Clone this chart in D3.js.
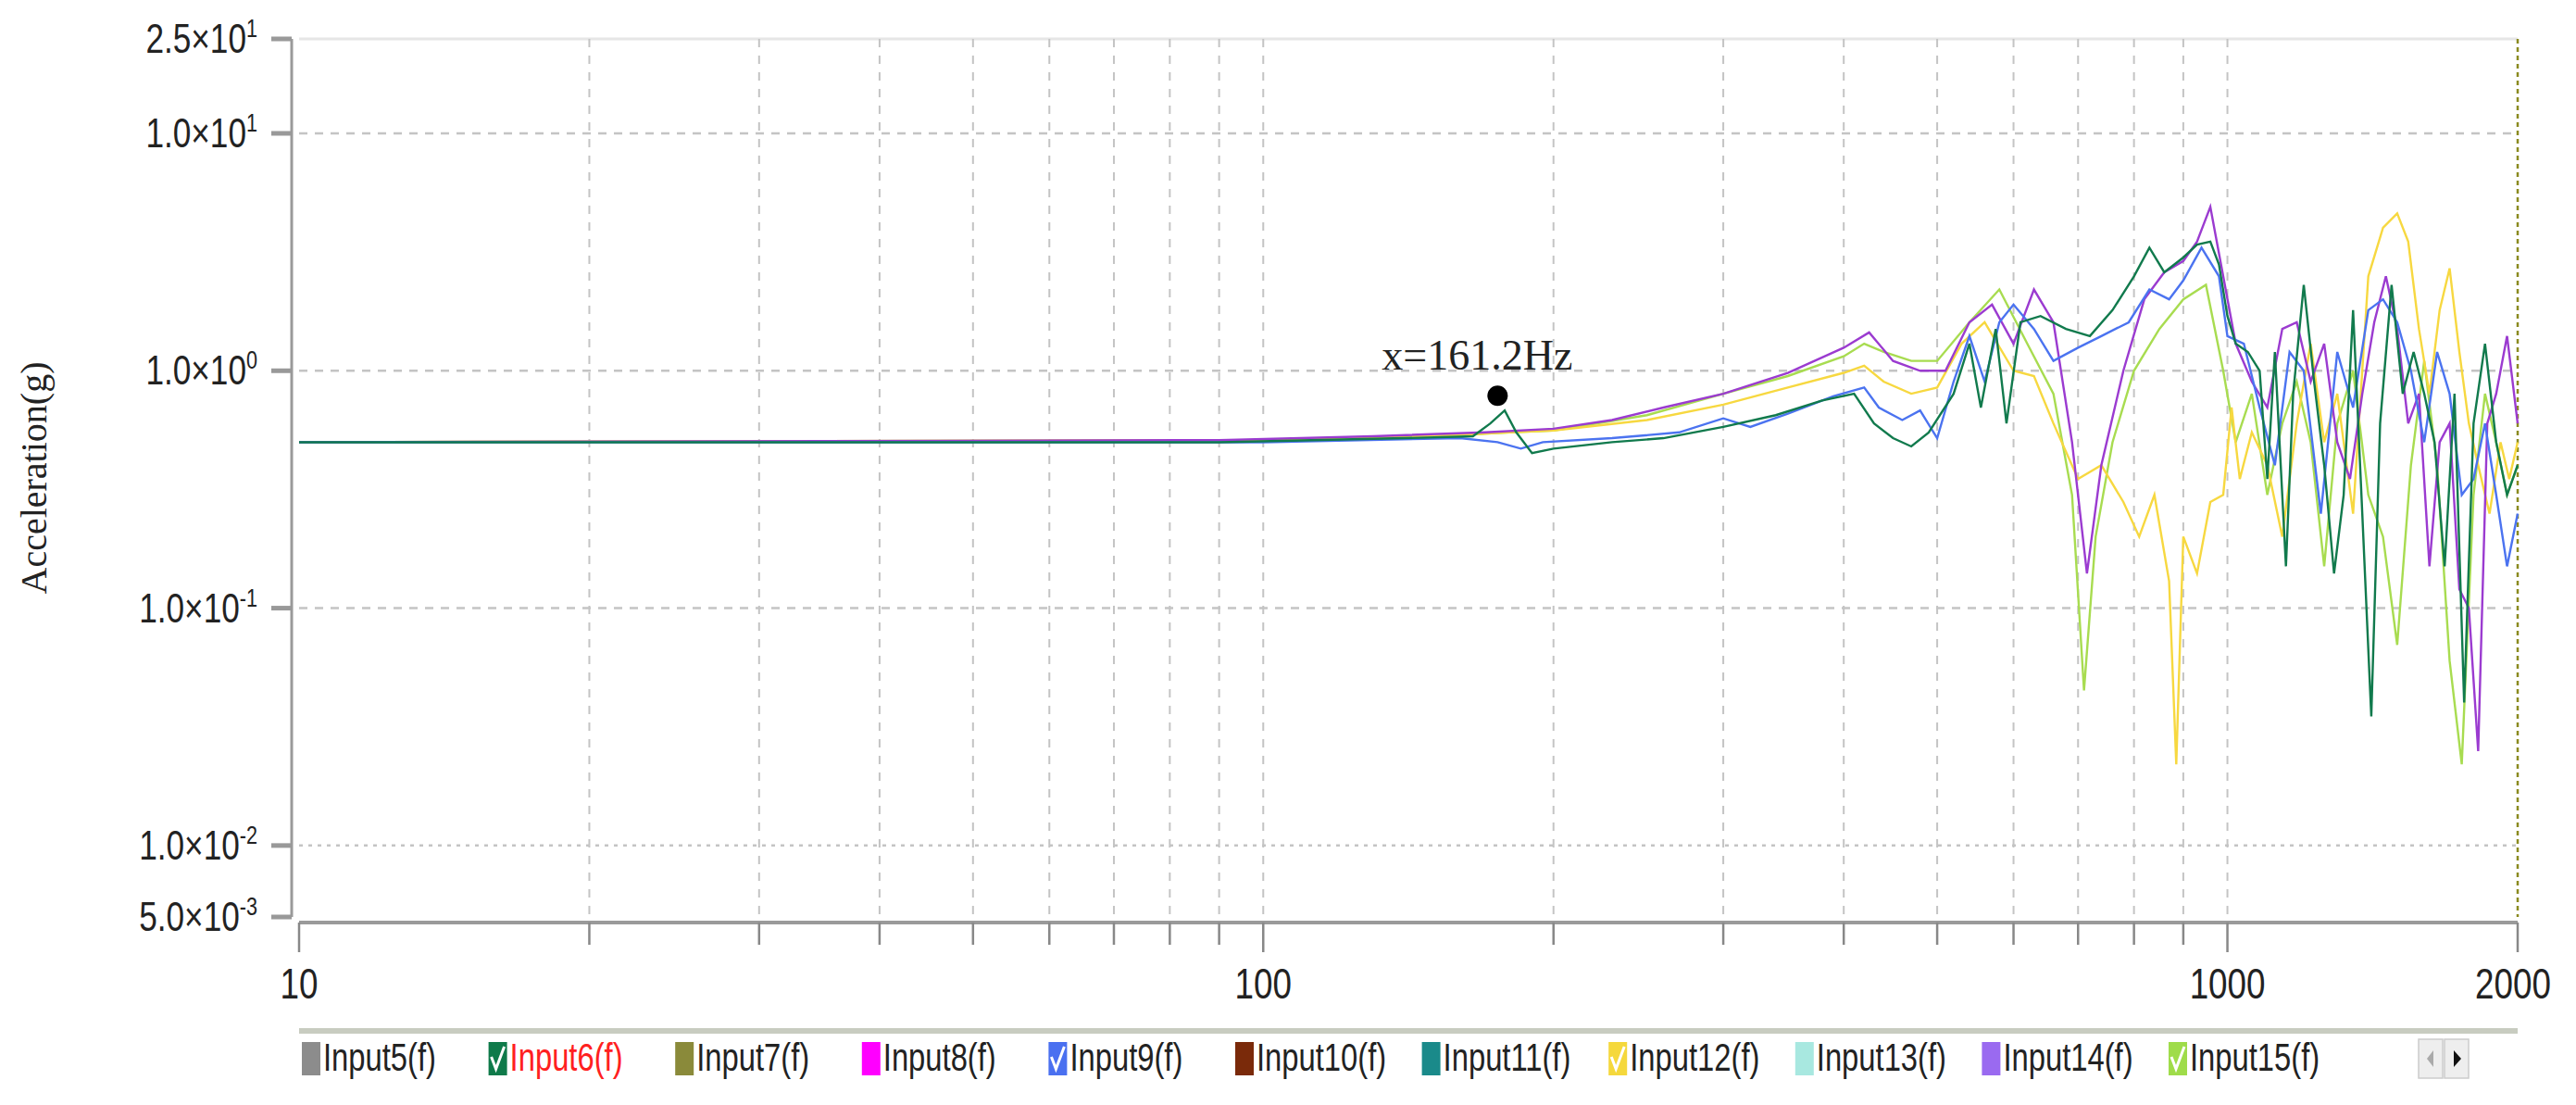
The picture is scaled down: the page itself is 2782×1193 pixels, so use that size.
<!DOCTYPE html>
<html><head><meta charset="utf-8">
<script src="https://cdn.jsdelivr.net/npm/d3@7"></script>
<style>body{margin:0;background:#fff}</style></head>
<body><svg id="c" width="2782" height="1193"></svg>
<script>
const yTicks=[25,10,1,0.1,0.01,0.005];
const yTickLabels=[["2.5","1"],["1.0","1"],["1.0","0"],["1.0","-1"],["1.0","-2"],["5.0","-3"]];
const xTickLabels=[10,100,1000,2000];
const legendNames=["Input5(f)","Input6(f)","Input7(f)","Input8(f)","Input9(f)","Input10(f)","Input11(f)","Input12(f)","Input13(f)","Input14(f)","Input15(f)"];
const legendColors=["#8c8c8c","#0f7a4a","#8a8a3a","#ff00ff","#4a70f0","#7a2a0a","#1a8a8a","#f5d83c","#a8e8e0","#9a6af0","#9fdc4a"];
const legendChecked=[false,true,false,false,true,false,false,true,false,false,true];
const sGreen=[[10,.5],[90,.5],[140,.52],[165,.53],[172,.6],[178,.68],[183,.55],[190,.45],[200,.47],[230,.5],[260,.52],[300,.58],[340,.65],[380,.75],[410,.8],[430,.6],[450,.52],[470,.48],[490,.55],[520,.8],[540,1.3],[555,.7],[575,1.5],[590,.6],[610,1.6],[640,1.7],[680,1.5],[720,1.4],[760,1.8],[800,2.5],[830,3.3],[860,2.6],[900,3.0],[930,3.4],[960,3.5],[980,2.8],[1000,1.7],[1020,1.3],[1050,1.2],[1080,1.0],[1100,.35],[1120,1.2],[1150,.15],[1170,.8],[1200,2.3],[1230,.9],[1260,.4],[1290,.14],[1320,.3],[1350,1.8],[1380,.25],[1410,.035],[1440,.6],[1480,2.3],[1520,.8],[1560,1.2],[1600,.8],[1640,.5],[1680,.15],[1720,.8],[1760,.04],[1800,.6],[1850,1.3],[1900,.5],[1950,.3],[2000,.4]];
const sBlue=[[10,.5],[100,.5],[160,.52],[175,.5],[185,.47],[195,.5],[230,.52],[270,.55],[300,.63],[320,.58],[350,.66],[390,.78],[420,.85],[435,.7],[460,.62],[480,.68],[500,.52],[520,.9],[540,1.4],[560,.9],[580,1.6],[600,1.9],[630,1.5],[660,1.1],[700,1.25],[740,1.4],[790,1.6],[830,2.2],[870,2.0],[900,2.4],[940,3.3],[980,2.5],[1000,1.4],[1040,1.3],[1080,.7],[1120,.4],[1160,1.2],[1200,1.0],[1250,.25],[1300,1.2],[1350,.7],[1400,1.8],[1450,2.0],[1500,1.6],[1550,1.0],[1600,.5],[1650,1.2],[1700,.8],[1750,.3],[1800,.35],[1850,.6],[1900,.3],[1950,.15],[2000,.25]];
const sYellow=[[10,.5],[100,.51],[150,.53],[180,.55],[200,.56],[250,.62],[300,.72],[350,.85],[400,.98],[420,1.05],[440,.9],[470,.8],[500,.85],[530,1.3],[560,1.6],[600,1.0],[630,.95],[660,.6],[700,.35],[740,.4],[780,.28],[810,.2],[840,.3],[870,.13],[885,.022],[900,.2],[930,.14],[960,.28],[990,.3],[1010,.7],[1030,.35],[1060,.55],[1100,.4],[1140,.2],[1180,.6],[1220,1.3],[1260,.5],[1300,.8],[1350,.25],[1400,2.5],[1450,4.0],[1500,4.6],[1540,3.5],[1580,1.5],[1620,.8],[1660,1.8],[1700,2.7],[1740,1.2],[1780,.6],[1820,.4],[1870,.25],[1920,.5],[1960,.35],[2000,.5]];
const sLight=[[10,.5],[100,.51],[150,.53],[180,.55],[200,.56],[250,.65],[300,.8],[350,.95],[400,1.15],[420,1.3],[440,1.2],[470,1.1],[500,1.1],[540,1.6],[580,2.2],[620,1.3],[660,.8],[690,.3],[710,.045],[730,.2],[760,.5],[800,1.0],[850,1.5],[900,2.0],[950,2.3],[990,1.0],[1020,.5],[1060,.8],[1100,.3],[1140,.6],[1180,.9],[1220,.5],[1260,.15],[1300,.6],[1350,1.0],[1400,.3],[1450,.2],[1500,.07],[1550,.4],[1600,1.1],[1650,.4],[1700,.06],[1750,.022],[1800,.3],[1850,.8],[1900,.5],[1950,.3],[2000,.4]];
const sPurple=[[10,.5],[90,.51],[130,.53],[170,.55],[200,.57],[230,.62],[260,.7],[300,.8],[350,.98],[400,1.25],[425,1.45],[450,1.1],[480,1.0],[510,1.0],[540,1.6],[570,1.9],[600,1.3],[630,2.2],[660,1.6],[690,.5],[715,.14],[740,.4],[780,1.0],[820,2.0],[860,2.6],[900,2.9],[930,3.5],[960,4.9],[990,2.5],[1020,1.3],[1060,.9],[1100,.7],[1140,1.5],[1180,1.6],[1220,.9],[1260,1.3],[1300,.5],[1340,.35],[1380,.8],[1420,1.6],[1460,2.5],[1500,1.5],[1540,.6],[1580,.8],[1620,.15],[1660,.5],[1700,.6],[1740,.12],[1780,.1],[1820,.025],[1860,.6],[1900,.8],[1950,1.4],[2000,.6]];
const series=[{d:sLight,c:"#a8dc50"},{d:sYellow,c:"#f7d840"},{d:sPurple,c:"#9b3bd0"},{d:sBlue,c:"#4b73f0"},{d:sGreen,c:"#117a4d"}];
const marker=[175,0.785];
const markerLabel="x=161.2Hz";

const svg=d3.select("#c");
const L=323,R=2719,T=42,B=990;
const x=d3.scaleLog().domain([10,2000]).range([L,R]);
const y=d3.scaleLog().domain([0.005,25]).range([B,T]);
const gridX=[20,30,40,50,60,70,80,90,100,200,300,400,500,600,700,800,900,1000];
const gridY=[10,1,0.1,0.01];
const narrow="Liberation Sans, Arial, sans-serif";
svg.append("line").attr("x1",L).attr("x2",R).attr("y1",T).attr("y2",T).attr("stroke","#e6e6e6").attr("stroke-width",3);
svg.selectAll(".gx").data(gridX).join("line").attr("x1",d=>x(d)).attr("x2",d=>x(d)).attr("y1",T).attr("y2",B)
 .attr("stroke","#c4c4c4").attr("stroke-width",2).attr("stroke-dasharray","9,9");
svg.selectAll(".gy").data(gridY).join("line").attr("x1",L).attr("x2",R).attr("y1",d=>y(d)).attr("y2",d=>y(d))
 .attr("stroke","#c4c4c4").attr("stroke-width",2.5).attr("stroke-dasharray",d=>d===0.01?"4,6":"9,8");
svg.append("line").attr("x1",R).attr("x2",R).attr("y1",T).attr("y2",B).attr("stroke","#8a8a20").attr("stroke-width",2.5).attr("stroke-dasharray","5,4");
svg.append("line").attr("x1",L-8).attr("x2",L-8).attr("y1",T).attr("y2",B).attr("stroke","#9a9a9a").attr("stroke-width",3);
svg.append("line").attr("x1",L).attr("x2",R).attr("y1",B+6).attr("y2",B+6).attr("stroke","#9a9a9a").attr("stroke-width",4);
svg.selectAll(".yt").data(yTicks).join("line").attr("x1",L-30).attr("x2",L-8).attr("y1",d=>y(d)).attr("y2",d=>y(d)).attr("stroke","#999").attr("stroke-width",5);
const yl=svg.selectAll(".yl").data(yTicks).join("text").attr("text-anchor","end")
 .attr("transform",d=>`translate(${L-45},${y(d)+15}) scale(0.8,1)`)
 .attr("font-family",narrow).attr("font-size",44).attr("fill","#222");
yl.each(function(d,i){const t=d3.select(this);t.append("tspan").text(yTickLabels[i][0]+"×10");t.append("tspan").attr("dy",-17).attr("font-size",27).text(yTickLabels[i][1]);});
const xt=[10,20,30,40,50,60,70,80,90,100,200,300,400,500,600,700,800,900,1000,2000];
svg.selectAll(".xt").data(xt).join("line").attr("x1",d=>x(d)).attr("x2",d=>x(d)).attr("y1",B+6).attr("y2",d=>(d===10||d===100||d===1000||d===2000)?B+38:B+30).attr("stroke","#888").attr("stroke-width",2.5);
svg.selectAll(".xl").data(xTickLabels).join("text").attr("text-anchor","middle")
 .attr("transform",d=>`translate(${d===2000?x(d)-5:x(d)},${B+88}) scale(0.8,1)`)
 .attr("font-family",narrow).attr("font-size",46).attr("fill","#222").text(d=>d);
svg.append("text").attr("transform",`translate(50,516) rotate(-90)`).attr("text-anchor","middle")
 .attr("font-family","Liberation Serif, Times New Roman, serif").attr("font-size",40).attr("fill","#222").text("Acceleration(g)");
const line=d3.line().x(d=>x(d[0])).y(d=>y(d[1])).curve(d3.curveLinear);
svg.selectAll(".s").data(series).join("path").attr("d",d=>line(d.d)).attr("fill","none").attr("stroke",d=>d.c).attr("stroke-width",2.4);
svg.append("circle").attr("cx",x(marker[0])).attr("cy",y(marker[1])).attr("r",11).attr("fill","#000");
svg.append("text").attr("x",x(marker[0])-125).attr("y",y(marker[1])-28).attr("font-family","Liberation Serif, Times New Roman, serif")
 .attr("font-size",46).attr("fill","#222").text(markerLabel);
svg.append("rect").attr("x",L).attr("y",1110).attr("width",R-L).attr("height",6).attr("fill","#c8ccc0");
const lg=svg.selectAll(".lg").data(legendNames).join("g").attr("transform",(d,i)=>`translate(${326+i*201.6},1125)`);
lg.append("rect").attr("width",20).attr("height",36).attr("fill",(d,i)=>legendColors[i]);
lg.filter((d,i)=>legendChecked[i]).append("path").attr("d","M3,16 L8,29 L17,5").attr("fill","none").attr("stroke","#fff").attr("stroke-width",3);
lg.append("text").attr("transform","translate(23,31) scale(0.78,1)").attr("font-family",narrow)
 .attr("font-size",42).attr("fill",(d,i)=>i===1?"#ff2020":"#222").text(d=>d);
const bx=2612;
[0,1].forEach(i=>{svg.append("rect").attr("x",bx+i*28).attr("y",1122).attr("width",26).attr("height",42).attr("fill","#eee").attr("stroke","#ccc").attr("stroke-width",1.5);});
svg.append("path").attr("d",`M${bx+16},1134 L${bx+9},1143 L${bx+16},1152 Z`).attr("fill","#aaa");
svg.append("path").attr("d",`M${bx+38},1134 L${bx+46},1143 L${bx+38},1152 Z`).attr("fill","#111");
</script></body></html>
